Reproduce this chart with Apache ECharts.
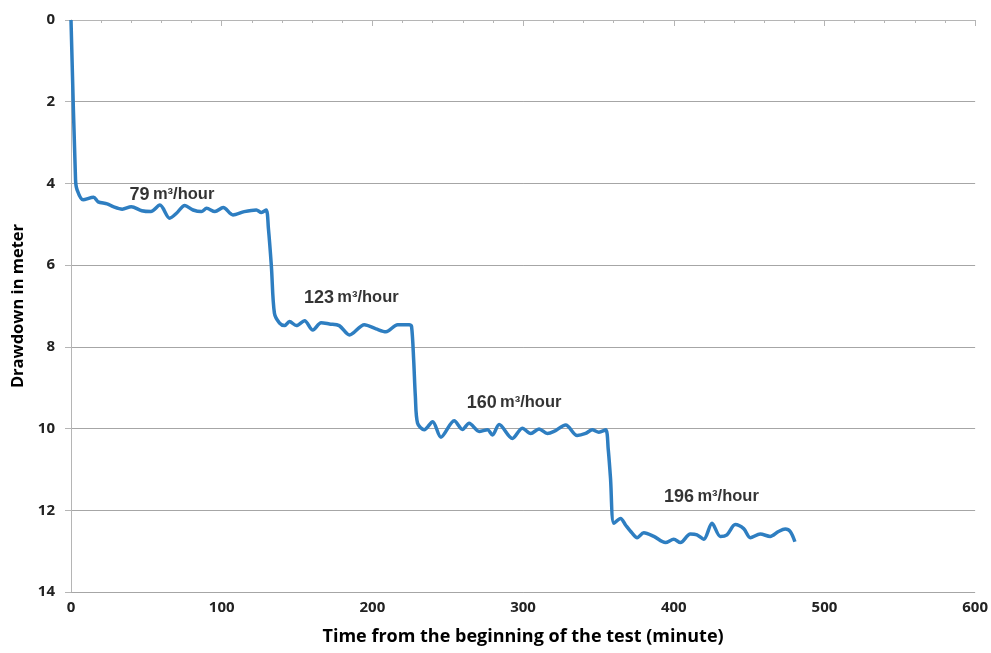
<!DOCTYPE html>
<html>
<head>
<meta charset="utf-8">
<script src="https://cdn.jsdelivr.net/npm/echarts@6/dist/echarts.min.js"></script>
<style>
  html, body { margin: 0; padding: 0; background: #fff; }
  #chart { width: 991px; height: 653px; }
</style>
</head>
<body>
<div id="chart"></div>
<script>
// time since start of test (minute) and drawdown (m)
var timeMin = [0, 3, 4, 8, 15, 18, 24, 28, 34, 40, 47, 53, 59, 65.5, 70, 75.5, 81, 86.5, 90, 95.5, 101, 107.5, 115, 123, 126.3, 129.5,
  131, 133, 135, 138.4, 141.7, 145, 149.5, 155, 160.5, 166, 171.5, 178, 184.8, 194.7, 202.4, 209, 216.8, 224.5, 226,
  227.4, 228.5, 230, 234.4, 240, 245.5, 254.3, 259.8, 264.2, 270.9, 276.4, 279.7, 284.1, 292.9, 299.5, 305.1, 310.6, 316.1, 320.5, 328.3, 335.9, 341.5, 345.9, 350.3, 354.8,
  356.5, 358, 360.3, 364.7, 368, 372.4, 375.7, 380.1, 386.8, 394.5, 400, 404.4, 411, 415.4, 419.9, 425.4, 430.9, 435.3, 440.8, 446.4, 450.8, 457.4, 464, 469.5, 474, 477.3, 480.4];
var drawdownM = [0, 3.9, 4.15, 4.4, 4.34, 4.45, 4.5, 4.57, 4.63, 4.57, 4.67, 4.69, 4.53, 4.85, 4.73, 4.54, 4.65, 4.69, 4.61, 4.69, 4.59, 4.77, 4.69, 4.65, 4.71, 4.65,
  5.1, 6.04, 7.18, 7.42, 7.48, 7.38, 7.48, 7.36, 7.59, 7.41, 7.44, 7.48, 7.71, 7.46, 7.56, 7.63, 7.46, 7.46, 7.5,
  8.32, 9.2, 9.87, 10.03, 9.83, 10.21, 9.81, 10.02, 9.87, 10.07, 10.03, 10.16, 9.9, 10.24, 9.99, 10.12, 10.01, 10.12, 10.07, 9.91, 10.17, 10.12, 10.03, 10.09, 10.03,
  10.5, 11.2, 12.32, 12.2, 12.36, 12.56, 12.67, 12.55, 12.64, 12.79, 12.71, 12.79, 12.58, 12.6, 12.71, 12.32, 12.64, 12.6, 12.35, 12.45, 12.67, 12.58, 12.64, 12.52, 12.46, 12.52, 12.77];

// pumping rate labels and where they sit
var rateLabels = ['79', '123', '160', '196'];
var rateX = [67, 186, 294, 425];
var rateY = [4.28, 6.8, 9.37, 11.67];

var xTicks = [0, 100, 200, 300, 400, 500, 600];
var yTicks = [0, 2, 4, 6, 8, 10, 12, 14];

var lineData = timeMin.map(function (t, i) { return [t, drawdownM[i]]; });
var labelData = rateLabels.map(function (r, i) { return { value: [rateX[i], rateY[i]], rate: r }; });

var chart = echarts.init(document.getElementById('chart'));
chart.setOption({
  animation: false,
  backgroundColor: '#fff',
  grid: { left: 71, right: 12, top: 20, bottom: 61 },
  xAxis: {
    type: 'value',
    min: xTicks[0],
    max: xTicks[xTicks.length - 1],
    interval: 100,
    name: 'Time from the beginning of the test (minute)',
    nameLocation: 'middle',
    nameGap: 36,
    nameTextStyle: { fontFamily: 'Open Sans', fontWeight: 'bold', fontSize: 18, color: '#000' },
    axisLine: { lineStyle: { color: '#b5b5b5', width: 1 } },
    axisTick: { show: true, length: 6, lineStyle: { color: '#b5b5b5' } },
    minorTick: { show: true, splitNumber: 5, length: 3, lineStyle: { color: '#b5b5b5' } },
    axisLabel: { fontFamily: 'Open Sans', fontWeight: 'bold', fontSize: 15, color: '#222', margin: 8 },
    splitLine: { show: false }
  },
  yAxis: {
    type: 'value',
    inverse: true,
    min: yTicks[0],
    max: yTicks[yTicks.length - 1],
    interval: 2,
    name: 'Drawdown in meter',
    nameLocation: 'middle',
    nameGap: 44,
    nameTextStyle: { fontFamily: 'Open Sans', fontWeight: 'bold', fontSize: 16.5, color: '#000', padding: [0, 0, 0, 0] },
    axisLine: { show: true, lineStyle: { color: '#b5b5b5', width: 1 } },
    axisTick: { show: true, length: 6, lineStyle: { color: '#b5b5b5' } },
    axisLabel: { fontFamily: 'Open Sans', fontWeight: 'bold', fontSize: 15, color: '#222', margin: 16 },
    splitLine: { show: true, lineStyle: { color: '#a6a6a6', width: 1 } }
  },
  series: [
    {
      type: 'line',
      data: lineData,
      showSymbol: false,
      smooth: 0.3,
      lineStyle: { color: '#2e7ec1', width: 3.5 },
      z: 3
    },
    {
      type: 'scatter',
      data: labelData,
      symbolSize: 0,
      silent: true,
      label: {
        show: true,
        position: 'inside',
        color: '#000',
        textBorderWidth: 0,
        formatter: function (p) { return '{n|' + p.data.rate + '} {u|m³/hour}'; },
        rich: {
          n: { fontFamily: 'Liberation Sans', fontWeight: 'bold', fontSize: 18, color: '#000' },
          u: { fontFamily: 'Liberation Sans', fontWeight: 'bold', fontSize: 16.5, color: '#000' }
        }
      },
      z: 4
    }
  ]
});
</script>
</body>
</html>
